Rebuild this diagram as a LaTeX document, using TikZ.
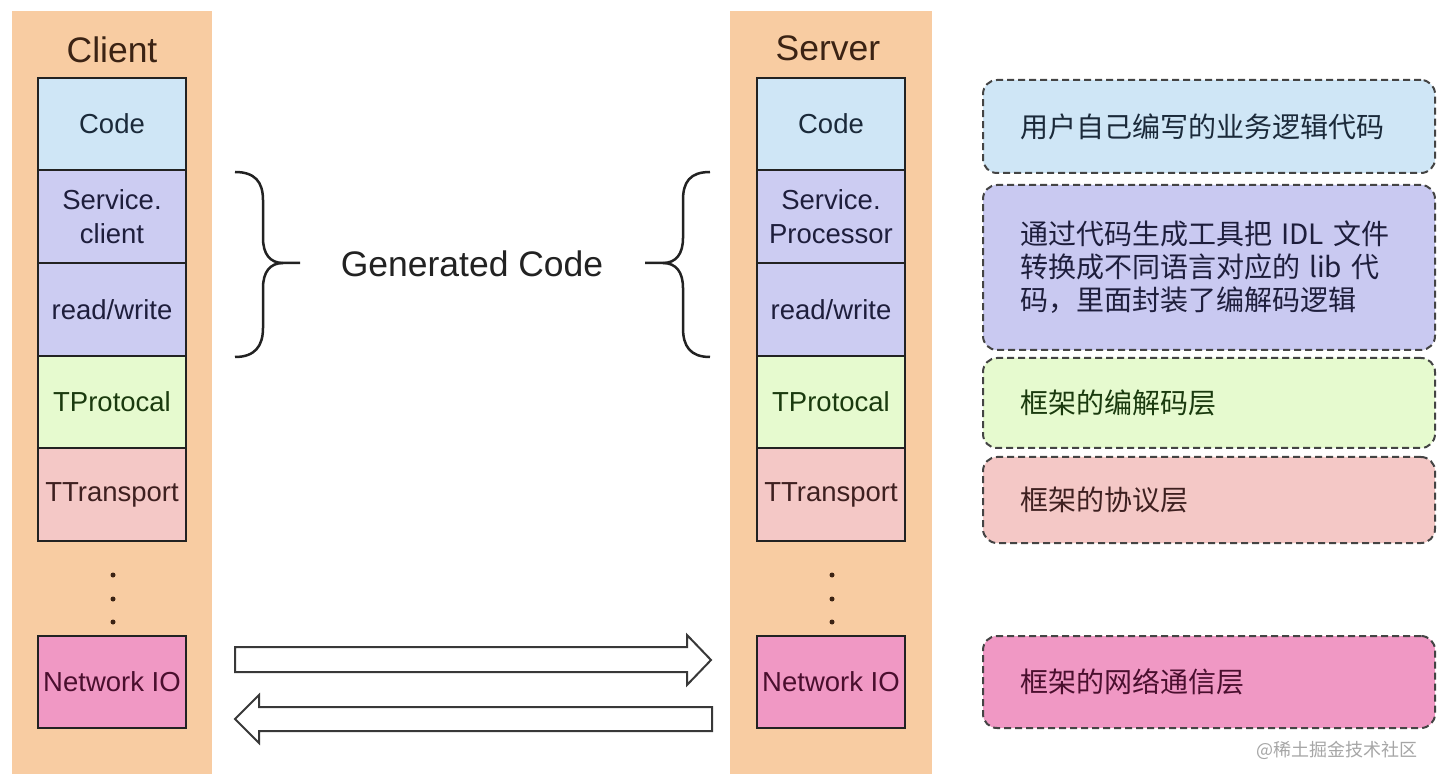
\documentclass[tikz,border=0pt]{standalone}
\usepackage{fontspec}
\setmainfont{Liberation Sans}
\newfontfamily\cjk{Noto Sans CJK SC}
\definecolor{colBg}{HTML}{F8CCA2}
\definecolor{codeC}{HTML}{CFE6F6}
\definecolor{servC}{HTML}{CCCCF2}
\definecolor{noteServC}{HTML}{C9C9F1}
\definecolor{protC}{HTML}{E6FACF}
\definecolor{transC}{HTML}{F4C8C6}
\definecolor{netC}{HTML}{F098C4}
\definecolor{codeT}{HTML}{1B2A3A}
\definecolor{servT}{HTML}{1E1E3C}
\definecolor{protT}{HTML}{1A3A0E}
\definecolor{transT}{HTML}{3E2020}
\definecolor{netT}{HTML}{4A0F2E}
\definecolor{titleT}{HTML}{3B2314}
\definecolor{lineC}{HTML}{222222}
\definecolor{dashC}{HTML}{444444}
\begin{document}
\begin{tikzpicture}[x=1pt,y=-1pt,
  layerbox/.style={draw=lineC, line width=2pt, minimum width=148pt, inner sep=0pt,
     align=center, font=\fontsize{27.5}{33.5}\selectfont},
  colbg/.style={fill=colBg, draw=none},
  title/.style={text=titleT, font=\fontsize{35.5}{40}\selectfont, inner sep=0pt},
  note/.style={draw=dashC, line width=2pt, dash pattern=on 7pt off 4pt, rounded corners=14pt,
     text width=378pt, inner xsep=37pt, inner ysep=0pt, align=left,
     font=\cjk\fontsize{28}{33}\selectfont},
  brace/.style={draw=lineC, line width=2.5pt},
  blockarrow/.style={draw=lineC!90, line width=2pt, fill=white, line join=miter},
  dotmark/.style={circle, fill=titleT, inner sep=0pt, minimum size=5pt}
]
\useasboundingbox[fill=white] (0,0) rectangle (1441,783);

% column backgrounds
\fill[colbg] (12,11) rectangle (212,774);
\fill[colbg] (730,11) rectangle (932,774);

% titles
\node[title] (clientT) at (112,50) {Client};
\node[title] (serverT) at (828,48) {Server};

% client stack
\node[layerbox, fill=codeC, text=codeT, minimum height=92pt] (cCode) at (112,124) {Code};
\node[layerbox, fill=servC, text=servT, minimum height=93pt] (cServ) at (112,216.5) {Service.\\client};
\node[layerbox, fill=servC, text=servT, minimum height=93pt] (cRW) at (112,309.5) {read/write};
\node[layerbox, fill=protC, text=protT, minimum height=92pt] (cProt) at (112,402) {TProtocal};
\node[layerbox, fill=transC, text=transT, minimum height=93pt] (cTrans) at (112,494.5) {TTransport};
\node[layerbox, fill=netC, text=netT, minimum height=92pt] (cNet) at (112,682) {Network IO};
\node[dotmark] (cd1) at (113,575) {};
\node[dotmark] (cd2) at (113,599) {};
\node[dotmark] (cd3) at (113,622) {};

% server stack
\node[layerbox, fill=codeC, text=codeT, minimum height=92pt] (sCode) at (831,124) {Code};
\node[layerbox, fill=servC, text=servT, minimum height=93pt] (sServ) at (831,216.5) {Service.\\Processor};
\node[layerbox, fill=servC, text=servT, minimum height=93pt] (sRW) at (831,309.5) {read/write};
\node[layerbox, fill=protC, text=protT, minimum height=92pt] (sProt) at (831,402) {TProtocal};
\node[layerbox, fill=transC, text=transT, minimum height=93pt] (sTrans) at (831,494.5) {TTransport};
\node[layerbox, fill=netC, text=netT, minimum height=92pt] (sNet) at (831,682) {Network IO};
\node[dotmark] (sd1) at (832,575) {};
\node[dotmark] (sd2) at (832,599) {};
\node[dotmark] (sd3) at (832,622) {};

% braces and label
\draw[brace] (235,172) .. controls (255,172) and (263,182) .. (263,200) -- (263,238)
  .. controls (263,254) and (270,263) .. (283,263) -- (300,263);
\draw[brace] (283,263) .. controls (270,263) and (263,272) .. (263,288) -- (263,328)
  .. controls (263,346) and (255,357) .. (235,357);
\draw[brace] (710,172) .. controls (690,172) and (683,182) .. (683,200) -- (683,238)
  .. controls (683,254) and (676,263) .. (663,263) -- (645,263);
\draw[brace] (663,263) .. controls (676,263) and (683,272) .. (683,288) -- (683,328)
  .. controls (683,346) and (690,357) .. (710,357);
\node[font=\fontsize{35.5}{40}\selectfont, text=lineC, inner sep=0pt] (gen) at (472,264) {Generated Code};

% block arrows
\draw[blockarrow] (235,647) -- (687,647) -- (687,635) -- (711,660) -- (687,685) -- (687,672) -- (235,672) -- cycle;
\draw[blockarrow] (712,707) -- (259,707) -- (259,695) -- (235,719) -- (259,743) -- (259,731) -- (712,731) -- cycle;

% annotations
\node[note, fill=codeC, text=codeT, minimum height=93pt] (n1) at (1209,126.5) {用户自己编写的业务逻辑代码};
\node[note, fill=noteServC, text=servT, minimum height=165pt] (n2) at (1209,267.5)
  {通过代码生成工具把 IDL 文件\\转换成不同语言对应的 lib 代\\码，里面封装了编解码逻辑};
\node[note, fill=protC, text=protT, minimum height=90pt] (n3) at (1209,403) {框架的编解码层};
\node[note, fill=transC, text=transT, minimum height=86pt] (n4) at (1209,500) {框架的协议层};
\node[note, fill=netC, text=netT, minimum height=92pt] (n5) at (1209,682) {框架的网络通信层};

% watermark
\node[anchor=east, font=\cjk\fontsize{18}{20}\selectfont, text=black!35, inner sep=0pt] (wm) at (1418,750) {@稀土掘金技术社区};
\end{tikzpicture}
\end{document}
